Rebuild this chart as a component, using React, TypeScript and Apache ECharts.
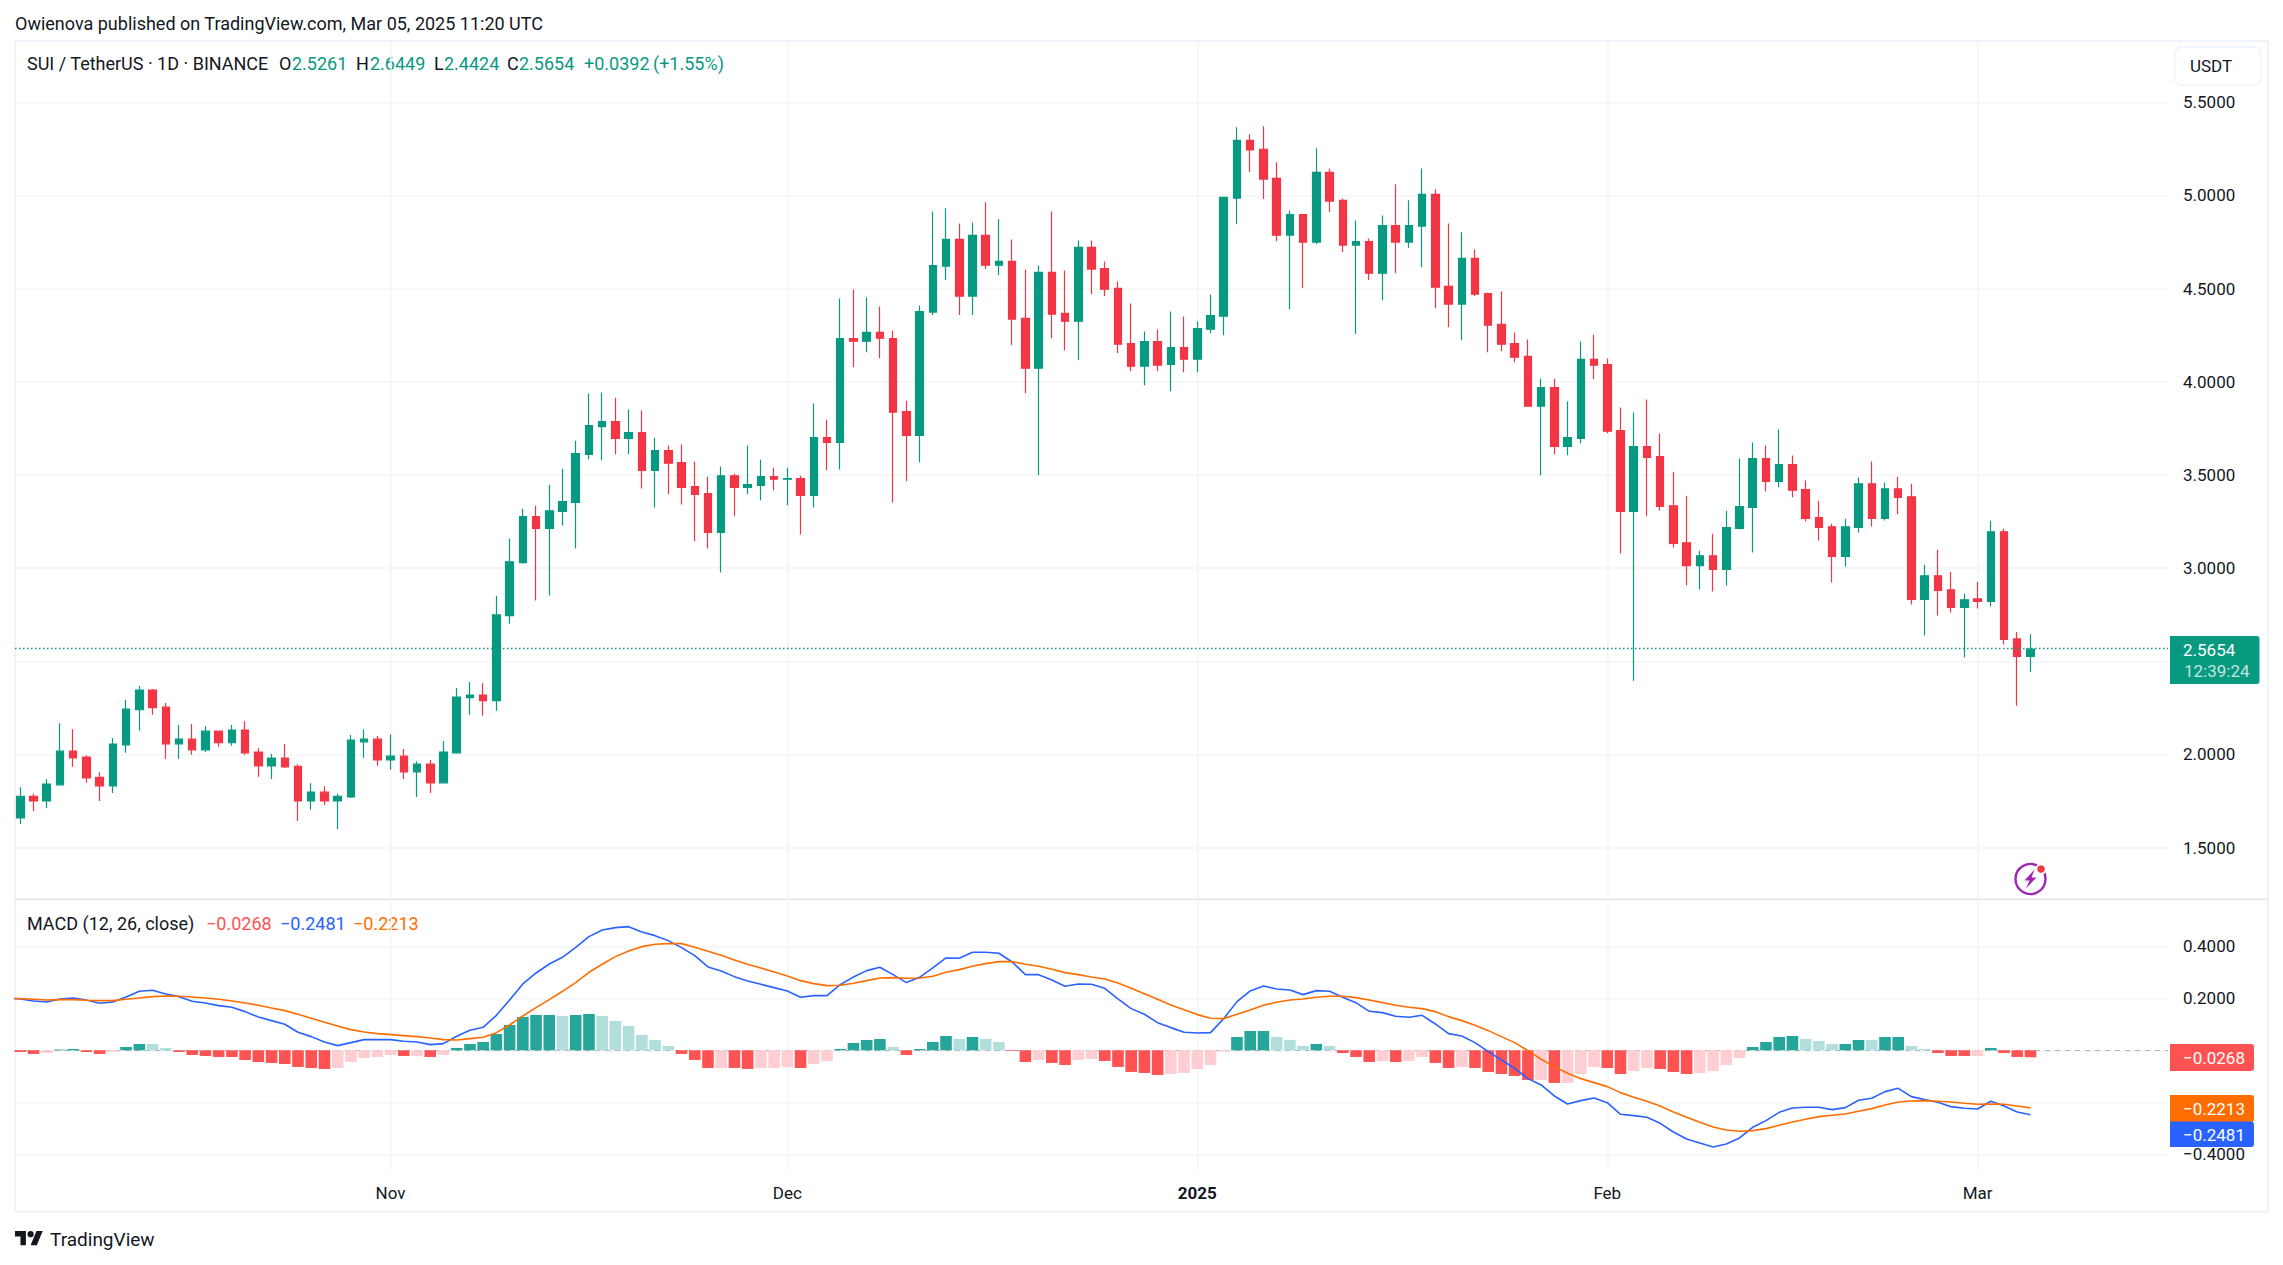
import React, { useEffect, useRef } from "react";
import * as echarts from "echarts";

const FONT = "Roboto";
const TEXT = "#131722";
const GREEN = "#089981";
const RED = "#f23645";
const GRID = "#f3f4f6";
const FRAME = "#f0f3fa";

const monthTicks = [28, 58, 89, 120, 148];
const monthLabels = ["Nov", "Dec", "2025", "Feb", "Mar"];
const priceTicks = [1.5, 2, 2.5, 3, 3.5, 4, 4.5, 5, 5.5];
const priceLabelTicks = [1.5, 2, 3, 3.5, 4, 4.5, 5, 5.5];
const macdTicks = [-0.4, -0.2, 0, 0.2, 0.4];
const macdLabelTicks = [-0.4, 0.2, 0.4];

const opens = [
  1.660, 1.776, 1.751, 1.837, 2.018, 1.986, 1.878, 1.832, 2.052, 2.240,
  2.346, 2.254, 2.057, 2.082, 2.025, 2.125, 2.063, 2.131, 2.013, 1.939,
  1.980, 1.937, 1.751, 1.798, 1.751, 1.772, 2.068, 2.082, 1.971, 1.991,
  1.907, 1.948, 1.848, 2.009, 2.305, 2.319, 2.289, 2.745, 3.030, 3.276,
  3.213, 3.305, 3.353, 3.611, 3.760, 3.786, 3.697, 3.727, 3.525, 3.631,
  3.566, 3.437, 3.400, 3.192, 3.496, 3.434, 3.444, 3.491, 3.477, 3.480,
  3.391, 3.700, 3.675, 4.232, 4.218, 4.265, 4.232, 3.840, 3.713, 4.374,
  4.621, 4.764, 4.460, 4.786, 4.626, 4.646, 4.340, 4.073, 4.587, 4.367,
  4.325, 4.721, 4.608, 4.501, 4.205, 4.084, 4.216, 4.094, 4.184, 4.121,
  4.282, 4.352, 4.986, 5.296, 5.248, 5.092, 4.787, 4.898, 4.750, 5.124,
  4.974, 4.734, 4.753, 4.583, 4.839, 4.750, 4.836, 5.006, 4.512, 4.417,
  4.662, 4.474, 4.308, 4.205, 4.136, 3.869, 3.969, 3.654, 3.697, 4.120,
  4.093, 3.738, 3.305, 3.652, 3.599, 3.335, 3.136, 3.014, 3.066, 2.993,
  3.213, 3.326, 3.588, 3.466, 3.556, 3.421, 3.271, 3.222, 3.063, 3.219,
  3.453, 3.267, 3.426, 3.383, 2.832, 2.959, 2.884, 2.789, 2.835, 2.821,
  3.195, 2.620, 2.5261,
];
const closes = [
  1.776, 1.751, 1.841, 2.018, 1.982, 1.875, 1.832, 2.056, 2.244, 2.346,
  2.251, 2.057, 2.082, 2.025, 2.125, 2.063, 2.131, 2.009, 1.939, 1.980,
  1.934, 1.751, 1.798, 1.751, 1.776, 2.077, 2.082, 1.971, 1.991, 1.907,
  1.948, 1.848, 2.013, 2.308, 2.319, 2.289, 2.749, 3.034, 3.276, 3.213,
  3.308, 3.357, 3.615, 3.765, 3.786, 3.697, 3.727, 3.525, 3.631, 3.563,
  3.434, 3.396, 3.192, 3.496, 3.434, 3.448, 3.491, 3.477, 3.480, 3.391,
  3.700, 3.675, 4.232, 4.218, 4.265, 4.234, 3.837, 3.713, 4.377, 4.624,
  4.764, 4.460, 4.786, 4.626, 4.646, 4.336, 4.073, 4.587, 4.363, 4.325,
  4.721, 4.605, 4.497, 4.202, 4.084, 4.216, 4.089, 4.184, 4.121, 4.286,
  4.356, 4.990, 5.296, 5.244, 5.088, 4.787, 4.898, 4.750, 5.124, 4.970,
  4.734, 4.753, 4.583, 4.839, 4.750, 4.839, 5.006, 4.508, 4.417, 4.662,
  4.470, 4.304, 4.202, 4.132, 3.869, 3.969, 3.654, 3.700, 4.120, 4.089,
  3.735, 3.305, 3.652, 3.595, 3.332, 3.133, 3.014, 3.066, 2.993, 3.217,
  3.330, 3.588, 3.466, 3.556, 3.418, 3.267, 3.219, 3.063, 3.222, 3.453,
  3.267, 3.426, 3.380, 2.832, 2.959, 2.880, 2.789, 2.830, 2.821, 3.195,
  2.617, 2.5261, 2.5654,
];
const lows = [
  1.627, 1.697, 1.713, 1.837, 1.934, 1.848, 1.751, 1.794, 2.009, 2.127,
  2.213, 1.977, 1.977, 1.998, 2.014, 2.041, 2.047, 1.998, 1.880, 1.869,
  1.928, 1.643, 1.703, 1.729, 1.600, 1.767, 1.982, 1.939, 1.918, 1.869,
  1.772, 1.794, 1.848, 2.004, 2.213, 2.208, 2.235, 2.702, 3.025, 2.826,
  2.853, 3.229, 3.106, 3.584, 3.579, 3.611, 3.611, 3.428, 3.326, 3.396,
  3.342, 3.144, 3.106, 2.977, 3.278, 3.396, 3.364, 3.418, 3.337, 3.181,
  3.326, 3.525, 3.530, 4.078, 4.159, 4.127, 3.353, 3.466, 3.568, 4.358,
  4.546, 4.358, 4.358, 4.605, 4.573, 4.196, 3.939, 3.498, 4.234, 4.170,
  4.116, 4.470, 4.460, 4.154, 4.057, 3.982, 4.057, 3.949, 4.051, 4.051,
  4.261, 4.250, 4.846, 5.126, 4.981, 4.755, 4.390, 4.503, 4.739, 4.911,
  4.696, 4.256, 4.546, 4.438, 4.583, 4.718, 4.615, 4.395, 4.293, 4.223,
  4.460, 4.159, 4.164, 4.105, 3.869, 3.498, 3.611, 3.606, 3.670, 4.014,
  3.724, 3.079, 2.396, 3.278, 3.310, 3.111, 2.907, 2.885, 2.875, 2.907,
  3.208, 3.084, 3.412, 3.434, 3.380, 3.251, 3.149, 2.923, 3.009, 3.192,
  3.224, 3.256, 3.289, 2.805, 2.638, 2.746, 2.762, 2.520, 2.783, 2.794,
  2.590, 2.262, 2.4424,
];
const highs = [
  1.824, 1.790, 1.867, 2.168, 2.136, 1.996, 1.905, 2.088, 2.292, 2.367,
  2.351, 2.276, 2.158, 2.163, 2.152, 2.128, 2.158, 2.179, 2.034, 2.002,
  2.056, 1.948, 1.846, 1.830, 1.790, 2.104, 2.136, 2.099, 2.109, 2.029,
  1.964, 1.970, 2.072, 2.357, 2.389, 2.383, 2.851, 3.158, 3.319, 3.335,
  3.448, 3.534, 3.684, 3.937, 3.942, 3.915, 3.851, 3.846, 3.700, 3.658,
  3.663, 3.572, 3.491, 3.545, 3.507, 3.658, 3.582, 3.539, 3.539, 3.496,
  3.883, 3.797, 4.447, 4.495, 4.453, 4.404, 4.275, 3.899, 4.410, 4.914,
  4.931, 4.850, 4.855, 4.963, 4.872, 4.764, 4.603, 4.624, 4.914, 4.598,
  4.759, 4.759, 4.646, 4.538, 4.420, 4.270, 4.281, 4.377, 4.350, 4.324,
  4.469, 4.990, 5.366, 5.328, 5.371, 5.178, 4.920, 4.900, 5.253, 5.145,
  4.984, 4.866, 4.769, 4.893, 5.060, 4.974, 5.145, 5.033, 4.850, 4.802,
  4.710, 4.479, 4.485, 4.265, 4.227, 4.017, 4.017, 3.894, 4.216, 4.254,
  4.125, 3.862, 3.835, 3.905, 3.722, 3.518, 3.389, 3.093, 3.185, 3.308,
  3.588, 3.674, 3.658, 3.744, 3.604, 3.470, 3.362, 3.238, 3.265, 3.486,
  3.572, 3.459, 3.491, 3.453, 3.018, 3.099, 2.980, 2.862, 2.927, 3.254,
  3.211, 2.658, 2.6449,
];

const histogram = [
  -0.0064, -0.0141, -0.0103, 0.0026, 0.0051, -0.0064, -0.0141, -0.0064, 0.0128, 0.0244,
  0.0244, 0.0090, -0.0064, -0.0179, -0.0218, -0.0256, -0.0256, -0.0372, -0.0449, -0.0487,
  -0.0526, -0.0641, -0.0679, -0.0718, -0.0679, -0.0449, -0.0295, -0.0256, -0.0179, -0.0218,
  -0.0218, -0.0256, -0.0179, 0.0090, 0.0244, 0.0321, 0.0628, 0.0974, 0.1282, 0.1359,
  0.1359, 0.1321, 0.1359, 0.1397, 0.1321, 0.1128, 0.0936, 0.0590, 0.0397, 0.0167,
  -0.0141, -0.0372, -0.0679, -0.0679, -0.0679, -0.0718, -0.0679, -0.0679, -0.0641, -0.0679,
  -0.0526, -0.0410, 0.0051, 0.0282, 0.0397, 0.0436, 0.0128, -0.0179, 0.0051, 0.0321,
  0.0551, 0.0436, 0.0513, 0.0436, 0.0321, -0.0026, -0.0449, -0.0372, -0.0487, -0.0564,
  -0.0372, -0.0333, -0.0410, -0.0641, -0.0833, -0.0872, -0.0949, -0.0910, -0.0872, -0.0718,
  -0.0564, -0.0051, 0.0513, 0.0744, 0.0744, 0.0513, 0.0397, 0.0167, 0.0244, 0.0167,
  -0.0103, -0.0256, -0.0449, -0.0410, -0.0449, -0.0410, -0.0256, -0.0487, -0.0679, -0.0641,
  -0.0679, -0.0833, -0.0910, -0.0987, -0.1141, -0.1141, -0.1256, -0.1256, -0.0910, -0.0641,
  -0.0679, -0.0910, -0.0795, -0.0679, -0.0718, -0.0833, -0.0910, -0.0872, -0.0795, -0.0564,
  -0.0295, 0.0128, 0.0321, 0.0513, 0.0551, 0.0436, 0.0359, 0.0244, 0.0244, 0.0397,
  0.0397, 0.0513, 0.0513, 0.0167, 0.0051, -0.0103, -0.0218, -0.0218, -0.0218, 0.0090,
  -0.0103, -0.0256, -0.0268,
];
const histogramShades =
  "RRrGGRRrGGggRRRRRRRRRRRRrrrrrRrRrGGGGGGGGgGGggggggRRRrRRrrrRrrGGGGgRGGGgGggRRrRRrrRRRRRrrrrrGGGgggGgRRRrRrrRRrRRRRRrRrrrRRrrRRRrrrrGGGGgggGGgGGggRRRrGRRR";
const shadeColors: Record<string, string> = { G: "#26a69a", g: "#b2dfdb", R: "#ff5252", r: "#ffcdd2" };

// Values of the two lines one day before the first visible candle (cut off by the pane's left edge).
const macdBefore = 0.2013;
const signalBefore = 0.2;

const macdLine = [
  0.1974, 0.1897, 0.1859, 0.1974, 0.2013, 0.1936, 0.1808, 0.1859, 0.2051, 0.2269,
  0.2308, 0.2167, 0.2064, 0.1885, 0.1820, 0.1718, 0.1654, 0.1487, 0.1282, 0.1141,
  0.1000, 0.0692, 0.0526, 0.0321, 0.0179, 0.0295, 0.0410, 0.0410, 0.0410, 0.0346,
  0.0321, 0.0218, 0.0256, 0.0538, 0.0769, 0.0885, 0.1346, 0.1936, 0.2551, 0.2974,
  0.3320, 0.3577, 0.3961, 0.4372, 0.4628, 0.4718, 0.4756, 0.4551, 0.4410, 0.4218,
  0.3949, 0.3641, 0.3205, 0.3051, 0.2833, 0.2667, 0.2538, 0.2410, 0.2282, 0.2038,
  0.2103, 0.2103, 0.2526, 0.2821, 0.3064, 0.3192, 0.2910, 0.2603, 0.2808, 0.3167,
  0.3551, 0.3538, 0.3769, 0.3769, 0.3731, 0.3397, 0.2910, 0.2910, 0.2705, 0.2462,
  0.2551, 0.2538, 0.2385, 0.1974, 0.1603, 0.1385, 0.1064, 0.0872, 0.0692, 0.0667,
  0.0679, 0.1218, 0.1872, 0.2282, 0.2474, 0.2359, 0.2321, 0.2141, 0.2295, 0.2269,
  0.2038, 0.1833, 0.1500, 0.1449, 0.1308, 0.1269, 0.1346, 0.1013, 0.0641, 0.0551,
  0.0295, -0.0051, -0.0372, -0.0692, -0.1090, -0.1333, -0.1756, -0.2064, -0.1936, -0.1833,
  -0.2013, -0.2462, -0.2513, -0.2577, -0.2808, -0.3141, -0.3410, -0.3564, -0.3718, -0.3603,
  -0.3372, -0.2962, -0.2705, -0.2385, -0.2218, -0.2192, -0.2192, -0.2282, -0.2205, -0.1923,
  -0.1846, -0.1590, -0.1462, -0.1782, -0.1897, -0.2000, -0.2167, -0.2231, -0.2256, -0.1962,
  -0.2141, -0.2372, -0.2481,
];
const signalLine = [
  0.1987, 0.1962, 0.1936, 0.1949, 0.1949, 0.1923, 0.1910, 0.1910, 0.1962, 0.2013,
  0.2064, 0.2090, 0.2077, 0.2051, 0.2013, 0.1962, 0.1897, 0.1820, 0.1731, 0.1628,
  0.1526, 0.1385, 0.1231, 0.1077, 0.0936, 0.0795, 0.0705, 0.0641, 0.0603, 0.0564,
  0.0526, 0.0474, 0.0410, 0.0397, 0.0449, 0.0500, 0.0679, 0.0974, 0.1321, 0.1641,
  0.1949, 0.2269, 0.2603, 0.3000, 0.3308, 0.3603, 0.3821, 0.3987, 0.4077, 0.4103,
  0.4103, 0.3961, 0.3808, 0.3654, 0.3474, 0.3308, 0.3167, 0.3013, 0.2859, 0.2679,
  0.2564, 0.2487, 0.2500, 0.2577, 0.2679, 0.2782, 0.2795, 0.2769, 0.2782, 0.2846,
  0.3000, 0.3103, 0.3231, 0.3333, 0.3410, 0.3410, 0.3308, 0.3231, 0.3115, 0.2987,
  0.2910, 0.2821, 0.2744, 0.2590, 0.2385, 0.2179, 0.1962, 0.1744, 0.1564, 0.1372,
  0.1231, 0.1218, 0.1385, 0.1551, 0.1731, 0.1846, 0.1936, 0.1974, 0.2038, 0.2077,
  0.2077, 0.2026, 0.1936, 0.1833, 0.1731, 0.1654, 0.1603, 0.1487, 0.1295, 0.1141,
  0.0962, 0.0756, 0.0526, 0.0295, -0.0013, -0.0346, -0.0628, -0.0885, -0.1090, -0.1244,
  -0.1397, -0.1628, -0.1808, -0.1962, -0.2141, -0.2372, -0.2577, -0.2769, -0.2949, -0.3064,
  -0.3115, -0.3090, -0.3013, -0.2885, -0.2756, -0.2654, -0.2551, -0.2500, -0.2449, -0.2346,
  -0.2244, -0.2103, -0.1987, -0.1949, -0.1936, -0.1962, -0.1987, -0.2038, -0.2077, -0.2064,
  -0.2077, -0.2141, -0.2213,
];

const LAST_PRICE = 2.5654;
const publishedText = "Owienova published on TradingView.com, Mar 05, 2025 11:20 UTC";
const symbolText = "SUI / TetherUS · 1D · BINANCE";

const xMin = -0.4;
const xMax = 162.4;

function label(x: number, y: number, text: string, fill: string, size = 18, extra: any = {}) {
  return {
    type: "text",
    x,
    y,
    silent: true,
    style: { text, fill, fontFamily: FONT, fontSize: size, verticalAlign: "middle", align: "left", ...extra },
  };
}

function tag(y0: number, h: number, fill: string, text: string) {
  return [
    { type: "rect", shape: { x: 2170, y: y0, width: 84, height: h, r: [0, 3, 3, 0] }, style: { fill }, silent: true },
    label(2183, y0 + h / 2 + 0.5, text, "#ffffff", 17),
  ];
}

function buildOption() {
  const xAxisBase = {
    type: "value",
    min: xMin,
    max: xMax,
    axisLine: { show: false },
    axisTick: { show: false, customValues: monthTicks },
    splitLine: { show: true, lineStyle: { color: GRID, width: 1.5 } },
  };
  const yAxisBase = {
    type: "value",
    position: "right",
    axisLine: { show: false },
    axisTick: { show: false },
    splitLine: { show: true, lineStyle: { color: GRID, width: 1.5 } },
  };
  return {
    animation: false,
    backgroundColor: "#ffffff",
    textStyle: { fontFamily: FONT },
    grid: [
      { left: 15, right: 115, top: 41, height: 858 },
      { left: 15, right: 115, top: 899, height: 271 },
    ],
    xAxis: [
      { ...xAxisBase, gridIndex: 0, axisLabel: { show: false, customValues: monthTicks } },
      {
        ...xAxisBase,
        gridIndex: 1,
        axisLabel: {
          show: true,
          customValues: monthTicks,
          margin: 14,
          fontFamily: FONT,
          fontSize: 17,
          color: TEXT,
          hideOverlap: false,
          formatter: (v: number) => {
            const s = monthLabels[monthTicks.indexOf(v)] ?? "";
            return s === "2025" ? `{y|${s}}` : s;
          },
          rich: { y: { fontFamily: FONT, fontSize: 17, fontWeight: "bold", color: TEXT } },
        },
      },
    ],
    yAxis: [
      {
        ...yAxisBase,
        gridIndex: 0,
        min: 1.2245,
        max: 5.829,
        axisTick: { show: false, customValues: priceTicks },
        axisLabel: {
          customValues: priceLabelTicks,
          align: "left",
          margin: 15,
          fontFamily: FONT,
          fontSize: 17,
          color: TEXT,
          formatter: (v: number) => v.toFixed(4),
        },
      },
      {
        ...yAxisBase,
        gridIndex: 1,
        min: -0.4604,
        max: 0.5819,
        axisTick: { show: false, customValues: macdTicks },
        axisLabel: {
          customValues: macdLabelTicks,
          align: "left",
          margin: 15,
          fontFamily: FONT,
          fontSize: 17,
          color: TEXT,
          formatter: (v: number) => (v < 0 ? "\u2212" + Math.abs(v).toFixed(4) : v.toFixed(4)),
        },
      },
    ],
    series: [
      {
        type: "candlestick",
        name: "SUI / TetherUS",
        xAxisIndex: 0,
        yAxisIndex: 0,
        barWidth: 8,
        itemStyle: { color: GREEN, color0: RED, borderColor: GREEN, borderColor0: RED, borderWidth: 1.2 },
        data: opens.map((o, i) => [i, o, closes[i], lows[i], highs[i]]),
        markLine: {
          silent: true,
          symbol: "none",
          label: { show: false },
          lineStyle: { color: GREEN, type: [1.5, 2.5], width: 1.3 },
          data: [{ yAxis: LAST_PRICE }],
        },
      },
      {
        type: "bar",
        name: "Histogram",
        xAxisIndex: 1,
        yAxisIndex: 1,
        barWidth: 11.6,
        data: histogram.map((v, i) => ({
          value: [i, v],
          itemStyle: { color: shadeColors[histogramShades[i]] },
        })),
        markLine: {
          silent: true,
          symbol: "none",
          label: { show: false },
          z: 1,
          lineStyle: { color: "#b2b5be", type: [5, 5], width: 1.2 },
          data: [{ yAxis: 0 }],
        },
      },
      {
        type: "line",
        name: "MACD",
        xAxisIndex: 1,
        yAxisIndex: 1,
        showSymbol: false,
        clip: true,
        lineStyle: { color: "#2962ff", width: 1.6 },
        data: [[-1, macdBefore], ...macdLine.map((v, i) => [i, v])],
        z: 5,
      },
      {
        type: "line",
        name: "Signal",
        xAxisIndex: 1,
        yAxisIndex: 1,
        showSymbol: false,
        clip: true,
        lineStyle: { color: "#ff6d00", width: 1.6 },
        data: [[-1, signalBefore], ...signalLine.map((v, i) => [i, v])],
        z: 6,
      },
    ],
    graphic: [
      {
        type: "rect",
        shape: { x: 15, y: 41, width: 2253, height: 1170.5 },
        style: { fill: "none", stroke: FRAME, lineWidth: 2 },
        silent: true,
      },
      {
        type: "line",
        shape: { x1: 15, y1: 899.3, x2: 2268, y2: 899.3 },
        style: { stroke: "#e0e3eb", lineWidth: 1.5 },
        silent: true,
      },
      label(15, 23, publishedText, TEXT, 18),
      label(27, 63, symbolText, TEXT, 18),
      label(279, 63, "O", TEXT, 18),
      label(292, 63, "2.5261", GREEN, 18),
      label(356, 63, "H", TEXT, 18),
      label(370, 63, "2.6449", GREEN, 18),
      label(434, 63, "L", TEXT, 18),
      label(444, 63, "2.4424", GREEN, 18),
      label(507, 63, "C", TEXT, 18),
      label(519, 63, "2.5654", GREEN, 18),
      label(584, 63, "+0.0392", GREEN, 18),
      label(653, 63, "(+1.55%)", GREEN, 18),
      label(27, 923, "MACD (12, 26, close)", TEXT, 18),
      label(206, 923, "\u22120.0268", "#ff5252", 18),
      label(280, 923, "\u22120.2481", "#2962ff", 18),
      label(353, 923, "\u22120.2213", "#ff6d00", 18),
      {
        type: "rect",
        shape: { x: 2175, y: 47, width: 86, height: 38, r: 6 },
        style: { fill: "#ffffff", stroke: FRAME, lineWidth: 1.5 },
        silent: true,
      },
      label(2190, 65.5, "USDT", TEXT, 17),
      {
        type: "rect",
        shape: { x: 2170, y: 636, width: 89.5, height: 48, r: [0, 3, 3, 0] },
        style: { fill: GREEN },
        silent: true,
      },
      label(2183, 650, "2.5654", "#ffffff", 17),
      label(2184, 671, "12:39:24", "rgba(255,255,255,0.75)", 17),
      ...tag(1044, 27, "#ff5252", "\u22120.0268"),
      ...tag(1095, 27, "#ff6d00", "\u22120.2213"),
      ...tag(1121.5, 25.5, "#2962ff", "\u22120.2481"),
      {
        type: "circle",
        shape: { cx: 2030.5, cy: 879, r: 15 },
        style: { fill: "none", stroke: "#9c27b0", lineWidth: 2.4 },
        silent: true,
      },
      {
        type: "polygon",
        shape: {
          points: [
            [2034.5, 869.5],
            [2024.5, 880.5],
            [2029.5, 880.5],
            [2026, 888.5],
            [2036.5, 877.5],
            [2031.5, 877.5],
          ],
        },
        style: { fill: "#9c27b0" },
        silent: true,
      },
      { type: "circle", shape: { cx: 2041, cy: 869, r: 5.5 }, style: { fill: "#ffffff" }, silent: true },
      { type: "circle", shape: { cx: 2041, cy: 869, r: 3.8 }, style: { fill: "#f23645" }, silent: true },
      {
        type: "tvLogo",
        x: 15,
        y: 1228,
        scaleX: 0.78,
        scaleY: 0.78,
        style: { fill: TEXT },
        silent: true,
      },
      label(50, 1239.5, "TradingView", TEXT, 19),
    ],
  };
}

echarts.graphic.registerShape(
  "tvLogo",
  echarts.graphic.extendPath(
    "M14 22H7V11H0V4h14v18zM28 22h-8l7.5-18h8L28 22zM20 4a4 4 0 1 0 0 8a4 4 0 1 0 0-8z",
    {}
  )
);

export default function App() {
  const ref = useRef<HTMLDivElement>(null);
  useEffect(() => {
    document.body.style.margin = "0";
    const chart = echarts.init(ref.current!, undefined, { renderer: "svg" });
    chart.setOption(buildOption() as any);
    return () => chart.dispose();
  }, []);
  return <div ref={ref} style={{ position: "absolute", left: 0, top: 0, width: 2283, height: 1265 }} />;
}
